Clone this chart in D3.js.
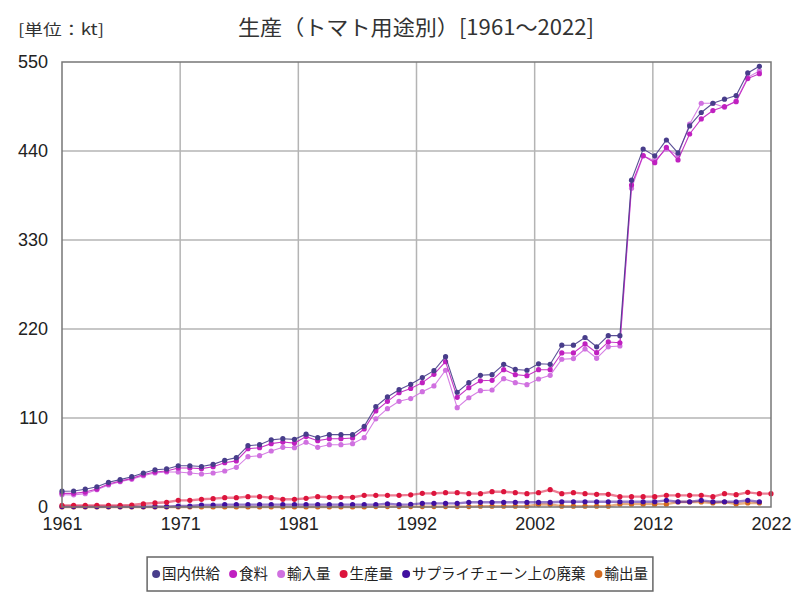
<!DOCTYPE html>
<html>
<head>
<meta charset="utf-8">
<script src="https://cdn.jsdelivr.net/npm/d3@7"></script>
<style>
  body { margin: 0; background: #fff; }
  text { font-family: "Noto Sans CJK JP", "Noto Sans", sans-serif; }
  .tick text { font-family: "Liberation Sans Narrow", "Liberation Sans", sans-serif; }
</style>
</head>
<body>
<div class="chart"></div>
<script>
// years 1961-2022
var years = d3.range(1961, 2023);

var supply = [19.5, 19.8, 22, 25, 30.5, 33.8, 37.5, 42, 46, 47,
  51, 51, 50, 52.7, 57.7, 61, 75.8, 77, 83, 84.4,
  83.6, 90, 85.7, 89.4, 89.4, 89.4, 99.7, 124, 136, 145,
  151.6, 160, 168.5, 185.8, 141.8, 153.7, 162.8, 163.6, 176.4, 170,
  169, 177, 176.4, 200, 200, 209.5, 198, 211.8, 211.8, 404,
  442.5, 434, 453.6, 437.6, 471, 487.6, 499, 504, 508.5, 536.5,
  544.7, null];

var food = [16.9, 16.9, 18.5, 22.2, 28.4, 32, 35.4, 40, 43.3, 44.5,
  48.2, 48.2, 47.4, 49.8, 54.8, 57, 72, 73.3, 78.3, 80.3,
  79, 87, 82, 84.4, 84.4, 85.3, 96.4, 118.7, 130.6, 141.3,
  146.5, 153.7, 164, 179.6, 135.6, 147.5, 156, 156.6, 169.7, 163.6,
  162.3, 169.7, 169.7, 190.4, 190.4, 201.5, 190.7, 204, 203, 398,
  434.3, 425.6, 444.6, 429, 461, 479.6, 490, 495, 501, 529.5,
  535.6, null];

var imports = [15.2, 15, 16.5, 21.4, 27.2, 31.3, 34.2, 38.7, 42, 43.3,
  43.3, 42, 40.8, 42, 44.5, 49, 62.2, 63.4, 69.2, 73.8,
  73.3, 80, 73.8, 77, 77, 78.3, 85.7, 109, 121.5, 130.6,
  134, 142.5, 149.6, 169, 122.8, 135, 143.8, 144.6, 158.6, 153.7,
  151.2, 158.2, 162.8, 182.6, 183.4, 195.3, 183.8, 198, 199, 394,
  433.9, 428, 442.5, 435, 473.4, 499, 499, 494, 502, 531,
  539, null];

var production = [2, 2, 2, 2, 2, 2, 2.5, 4, 5, 5.8,
  8.2, 8.2, 9.5, 10.3, 11.5, 11.5, 12.8, 12.8, 11.5, 9.5,
  9.5, 10.7, 12.8, 12, 12, 12, 14.4, 14.4, 14.4, 14.4,
  15, 16.9, 16.9, 17.7, 17.7, 16.5, 16.5, 18.9, 18.9, 17.7,
  16.5, 17.7, 21.4, 16.5, 17.7, 16.5, 15.7, 15.7, 12.8, 12.8,
  12.8, 12.8, 14.4, 14.4, 14.4, 14.4, 12.8, 16.5, 15.2, 18.1,
  16.5, 16.5];

var waste = [0.5, 0.5, 0.5, 0.5, 0.5, 0.5, 0.5, 0.5, 0.5, 0.5,
  1.2, 1.2, 2.5, 2.5, 2.9, 2.9, 2.9, 2.9, 2.9, 2.9,
  2.9, 2.9, 2.9, 2.9, 2.9, 2.9, 2.9, 2.9, 4, 2.9,
  3.3, 4.5, 4.5, 4.5, 4.5, 5.8, 5.8, 5.8, 5.8, 5.8,
  5.8, 5.8, 5.8, 6.5, 6.5, 6.5, 6.5, 6.5, 6.5, 6.5,
  6.5, 6.5, 8.2, 6.5, 6.5, 8.2, 6.5, 6.5, 6.5, 8.2,
  6.5, null];

var exports = [0, 0, 0, 0, 0, 0, 0, 0, 0, 0,
  0, 0, 0, 0, 0, 0, 0, 0, 0, 0,
  0, 0, 0, 0, 0, 0, 0, 0.5, 0.5, 0.5,
  0.5, 0.5, 0.5, 0.5, 0.5, 0.5, 1, 1, 1, 1,
  1, 3, 3, 1, 1, 1, 1, 1, 3.5, 3.5,
  3.5, 3.5, 3.5, 6.2, 6.2, 6.2, 5, 6.2, 3.7, 5,
  5, null];

var seriesNames = ["国内供給", "食料", "輸入量", "生産量", "サプライチェーン上の廃棄", "輸出量"];
var seriesColors = ["#483d8b", "#c020c0", "#d070e0", "#dc143c", "#4010a0", "#d2691e"];
var seriesValues = [supply, food, imports, production, waste, exports];
var yTicks = [0, 110, 220, 330, 440, 550];

var svgWidth = 800, svgHeight = 600;
var margin = { top: 62, right: 29, bottom: 93, left: 62 };
var width = svgWidth - margin.left - margin.right;
var height = svgHeight - margin.top - margin.bottom;

var svg = d3.select(".chart").append("svg")
  .attr("width", svgWidth)
  .attr("height", svgHeight);

// title + unit
svg.append("text")
  .attr("x", 416).attr("y", 35)
  .attr("text-anchor", "middle")
  .attr("font-size", 21)
  .attr("fill", "#333")
  .attr("textLength", 356)
  .attr("lengthAdjust", "spacingAndGlyphs")
  .text("生産（トマト用途別）[1961～2022]");

svg.append("text")
  .attr("x", 18).attr("y", 35)
  .attr("font-size", 15)
  .attr("fill", "#333")
  .attr("textLength", 86)
  .attr("lengthAdjust", "spacingAndGlyphs")
  .text("[単位：kt]");

var chartGroup = svg.append("g")
  .attr("transform", `translate(${margin.left}, ${margin.top})`);

var x = d3.scaleLinear().domain([1961, 2022]).range([0, width]);
var y = d3.scaleLinear().domain([0, 550]).range([height, 0]);

var xTickVals = d3.range(7).map(i => 1961 + i * 61 / 6);

// grid
chartGroup.append("g")
  .selectAll("line")
  .data(xTickVals.slice(1, 6))
  .enter().append("line")
  .attr("x1", d => x(d)).attr("x2", d => x(d))
  .attr("y1", 0).attr("y2", height)
  .attr("stroke", "#b4b4b4").attr("stroke-width", 1.5);

chartGroup.append("g")
  .selectAll("line")
  .data(yTicks.slice(1, 5))
  .enter().append("line")
  .attr("x1", 0).attr("x2", width)
  .attr("y1", d => y(d)).attr("y2", d => y(d))
  .attr("stroke", "#b4b4b4").attr("stroke-width", 1.5);

// axes (labels only)
var xAxis = d3.axisBottom(x).tickValues(xTickVals).tickFormat(d => Math.round(d)).tickSize(0).tickPadding(10);
var yAxis = d3.axisLeft(y).tickValues(yTicks).tickSize(0).tickPadding(14);

var gx = chartGroup.append("g")
  .attr("transform", `translate(0, ${height})`)
  .call(xAxis);
var gy = chartGroup.append("g").call(yAxis);
[gx, gy].forEach(g => {
  g.select(".domain").remove();
  g.selectAll("text").attr("font-size", 18).attr("fill", "#222");
});

// lines, drawn bottom-up so 国内供給 ends on top
for (var s = seriesValues.length - 1; s >= 0; s--) {
  var vals = seriesValues[s];
  var pts = years.map((yr, i) => ({ yr: yr, v: vals[i] })).filter(d => d.v != null);
  var thick = s >= 3;
  chartGroup.append("path")
    .datum(pts)
    .attr("fill", "none")
    .attr("stroke", seriesColors[s])
    .attr("stroke-width", thick ? 2.4 : 1.1)
    .attr("stroke-opacity", thick ? 0.55 : 0.9)
    .attr("d", d3.line().x(d => x(d.yr)).y(d => y(d.v)));
  chartGroup.append("g")
    .selectAll("circle")
    .data(pts)
    .enter().append("circle")
    .attr("cx", d => x(d.yr))
    .attr("cy", d => y(d.v))
    .attr("r", 2.6)
    .attr("fill", seriesColors[s]);
}

// frame
chartGroup.append("rect")
  .attr("x", 0).attr("y", 0)
  .attr("width", width).attr("height", height)
  .attr("fill", "none")
  .attr("stroke", "#777").attr("stroke-width", 1.5);

// legend
var legend = svg.append("g");
var box = legend.append("rect");
var lx = 0;
seriesNames.forEach((name, i) => {
  legend.append("circle")
    .attr("cx", lx + 4).attr("cy", 574).attr("r", 4)
    .attr("fill", seriesColors[i]);
  var t = legend.append("text")
    .attr("x", lx + 10).attr("y", 579)
    .attr("font-size", 14.5)
    .attr("fill", "#222")
    .text(name);
  lx += 10 + t.node().getComputedTextLength() + (i < seriesNames.length - 1 ? 9 : 0);
});
box.attr("x", -5).attr("y", 557)
  .attr("width", lx + 10).attr("height", 34)
  .attr("fill", "#fff")
  .attr("stroke", "#666").attr("stroke-width", 1.5);
legend.attr("transform", `translate(${400 - lx / 2}, 0)`);
</script>
</body>
</html>
